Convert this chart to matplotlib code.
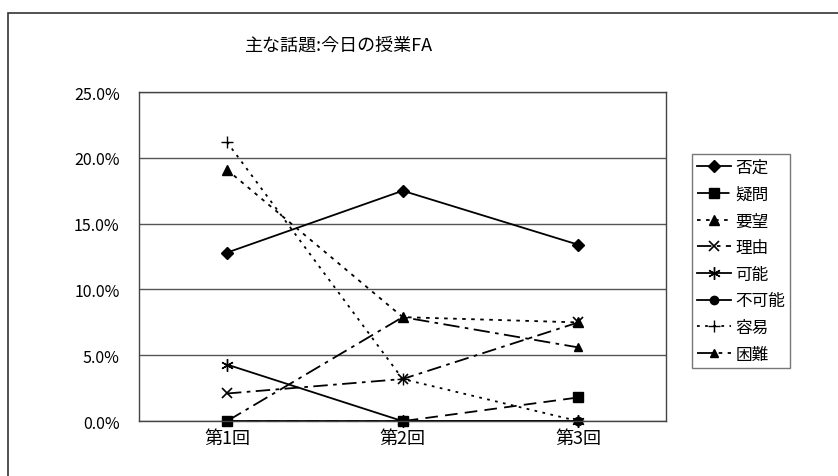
import matplotlib
matplotlib.use("Agg")
import matplotlib.pyplot as plt
from matplotlib.patches import Rectangle
from matplotlib.ticker import PercentFormatter

plt.rcParams['font.family'] = ['Noto Sans CJK JP', 'DejaVu Sans']

rounds = ['第1回', '第2回', '第3回']
series_names = ['否定', '疑問', '要望', '理由', '可能', '不可能', '容易', '困難']
hitei = [12.8, 17.5, 13.4]
gimon = [0.0, 0.0, 1.8]
youbou = [19.1, 7.9, 7.5]
riyuu = [2.1, 3.2, 7.5]
kanou = [4.3, 0.0, 0.0]
fukanou = [0.0, 0.0, 0.0]
youi = [21.2, 3.2, 0.0]
konnan = [0.0, 7.9, 5.6]

values = [hitei, gimon, youbou, riyuu, kanou, fukanou, youi, konnan]
styles = [
    dict(ls='-', marker='D', ms=6),
    dict(ls=(0, (7, 4)), marker='s', ms=7),
    dict(ls=(0, (2, 3)), marker='^', ms=7),
    dict(ls=(0, (8, 3, 2, 3)), marker='x', ms=7, mew=1.2),
    dict(ls='-', marker=(6, 2, 0), ms=9, mew=1.0),
    dict(ls='-', marker='o', ms=6),
    dict(ls=(0, (1.5, 3)), marker='+', ms=8, mew=1.0),
    dict(ls=(0, (9, 3, 2, 3)), marker='^', ms=6),
]

fig = plt.figure(figsize=(8.38, 4.77), dpi=100)
ax = fig.add_axes([0.166, 0.115, 0.629, 0.69])

x = range(len(rounds))
for name, vals, st in zip(series_names, values, styles):
    ax.plot(x, vals, color='black', lw=1.3, label=name, clip_on=False,
            markerfacecolor='black', markeredgecolor='black', **st)

ax.set_xlim(-0.5, 2.5)
ax.set_ylim(0, 25)
ax.set_yticks([0, 5, 10, 15, 20, 25])
ax.yaxis.set_major_formatter(PercentFormatter(decimals=1))
ax.set_xticks(list(x))
ax.set_xticklabels(rounds)
ax.tick_params(axis='y', length=0, labelsize=11.5, pad=14)
ax.tick_params(axis='x', length=0, labelsize=13, pad=6)
ax.yaxis.grid(True, color='#555555', lw=1.0)
ax.set_axisbelow(True)
for sp in ax.spines.values():
    sp.set_color('#444444')
    sp.set_linewidth(1.0)

fig.text(0.405, 0.905, '主な話題:今日の授業FA', ha='center', va='center', fontsize=13)

leg = fig.legend(loc='upper left', bbox_to_anchor=(0.826, 0.675), frameon=True,
                 fancybox=False, edgecolor='#555555', fontsize=12,
                 handlelength=2.0, handletextpad=0.3, labelspacing=0.58,
                 borderpad=0.3, borderaxespad=0.0)
leg.get_frame().set_linewidth(1.0)

# outer chart frame
fig.patches.append(Rectangle((0.01, -0.05), 1.1, 1.02, transform=fig.transFigure,
                             fill=False, edgecolor='#333333', lw=1.2))

fig.savefig('out.png', dpi=100)
